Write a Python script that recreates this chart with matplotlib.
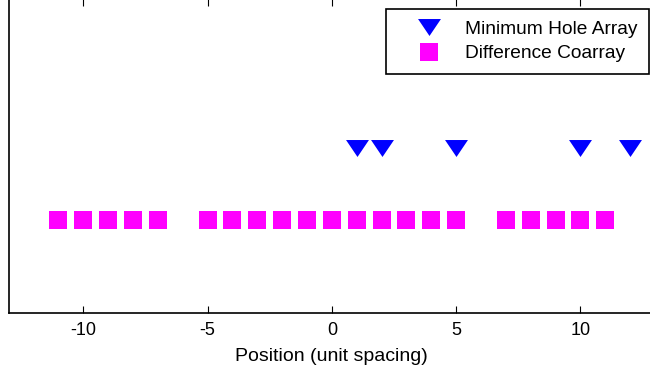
import matplotlib
matplotlib.use("Agg")
import matplotlib.pyplot as plt

plt.rcParams['font.family'] = ['Liberation Sans', 'DejaVu Sans']

array_positions = [1, 2, 5, 10, 12]
coarray_positions = [-11, -10, -9, -8, -7, -5, -4, -3, -2, -1, 0, 1, 2, 3, 4, 5, 7, 8, 9, 10, 11]
xticks = [-10, -5, 0, 5, 10]
array_label = "Minimum Hole Array"
coarray_label = "Difference Coarray"
xlabel = "Position (unit spacing)"

W, H = 650, 372
fig = plt.figure(figsize=(W / 100, H / 100), dpi=100)
bottom_px = 312.7
top_px = -1.0
ax = fig.add_axes([8.7 / W, (H - bottom_px) / H, (655 - 8.7) / W, (bottom_px - top_px) / H])

tri = [(-1, 0.74), (1, 0.74), (0, -0.74)]
ax.plot(array_positions, [1] * len(array_positions), linestyle='none', marker=tri,
        markersize=16.5, color=(0, 0, 1), markeredgewidth=0, label=array_label)
ax.plot(coarray_positions, [0] * len(coarray_positions), linestyle='none', marker='s',
        markersize=12.5, color=(1, 0, 1), markeredgewidth=0, label=coarray_label)

ax.set_xlim(-13, 13)
ax.set_ylim(-1.27, 3.05)
ax.set_xticks(xticks)
ax.set_xticklabels([str(t) for t in xticks])
ax.set_yticks([])
ax.tick_params(axis='x', direction='in', length=5, width=0.8, top=True, labelsize=13, pad=6.5)
ax.set_xlabel(xlabel, fontsize=14, labelpad=6.5)
for s in ax.spines.values():
    s.set_linewidth(1.2)

leg = ax.legend(loc='upper right', bbox_to_anchor=(649 / W, 1 - 9 / H), bbox_transform=fig.transFigure,
                borderaxespad=0, fontsize=13.8, fancybox=False, frameon=True, framealpha=1,
                edgecolor='black', handlelength=3.2, handletextpad=0.3, labelspacing=0.36,
                borderpad=0.6)
leg.get_frame().set_linewidth(1.2)

fig.savefig("out.png", dpi=100)
